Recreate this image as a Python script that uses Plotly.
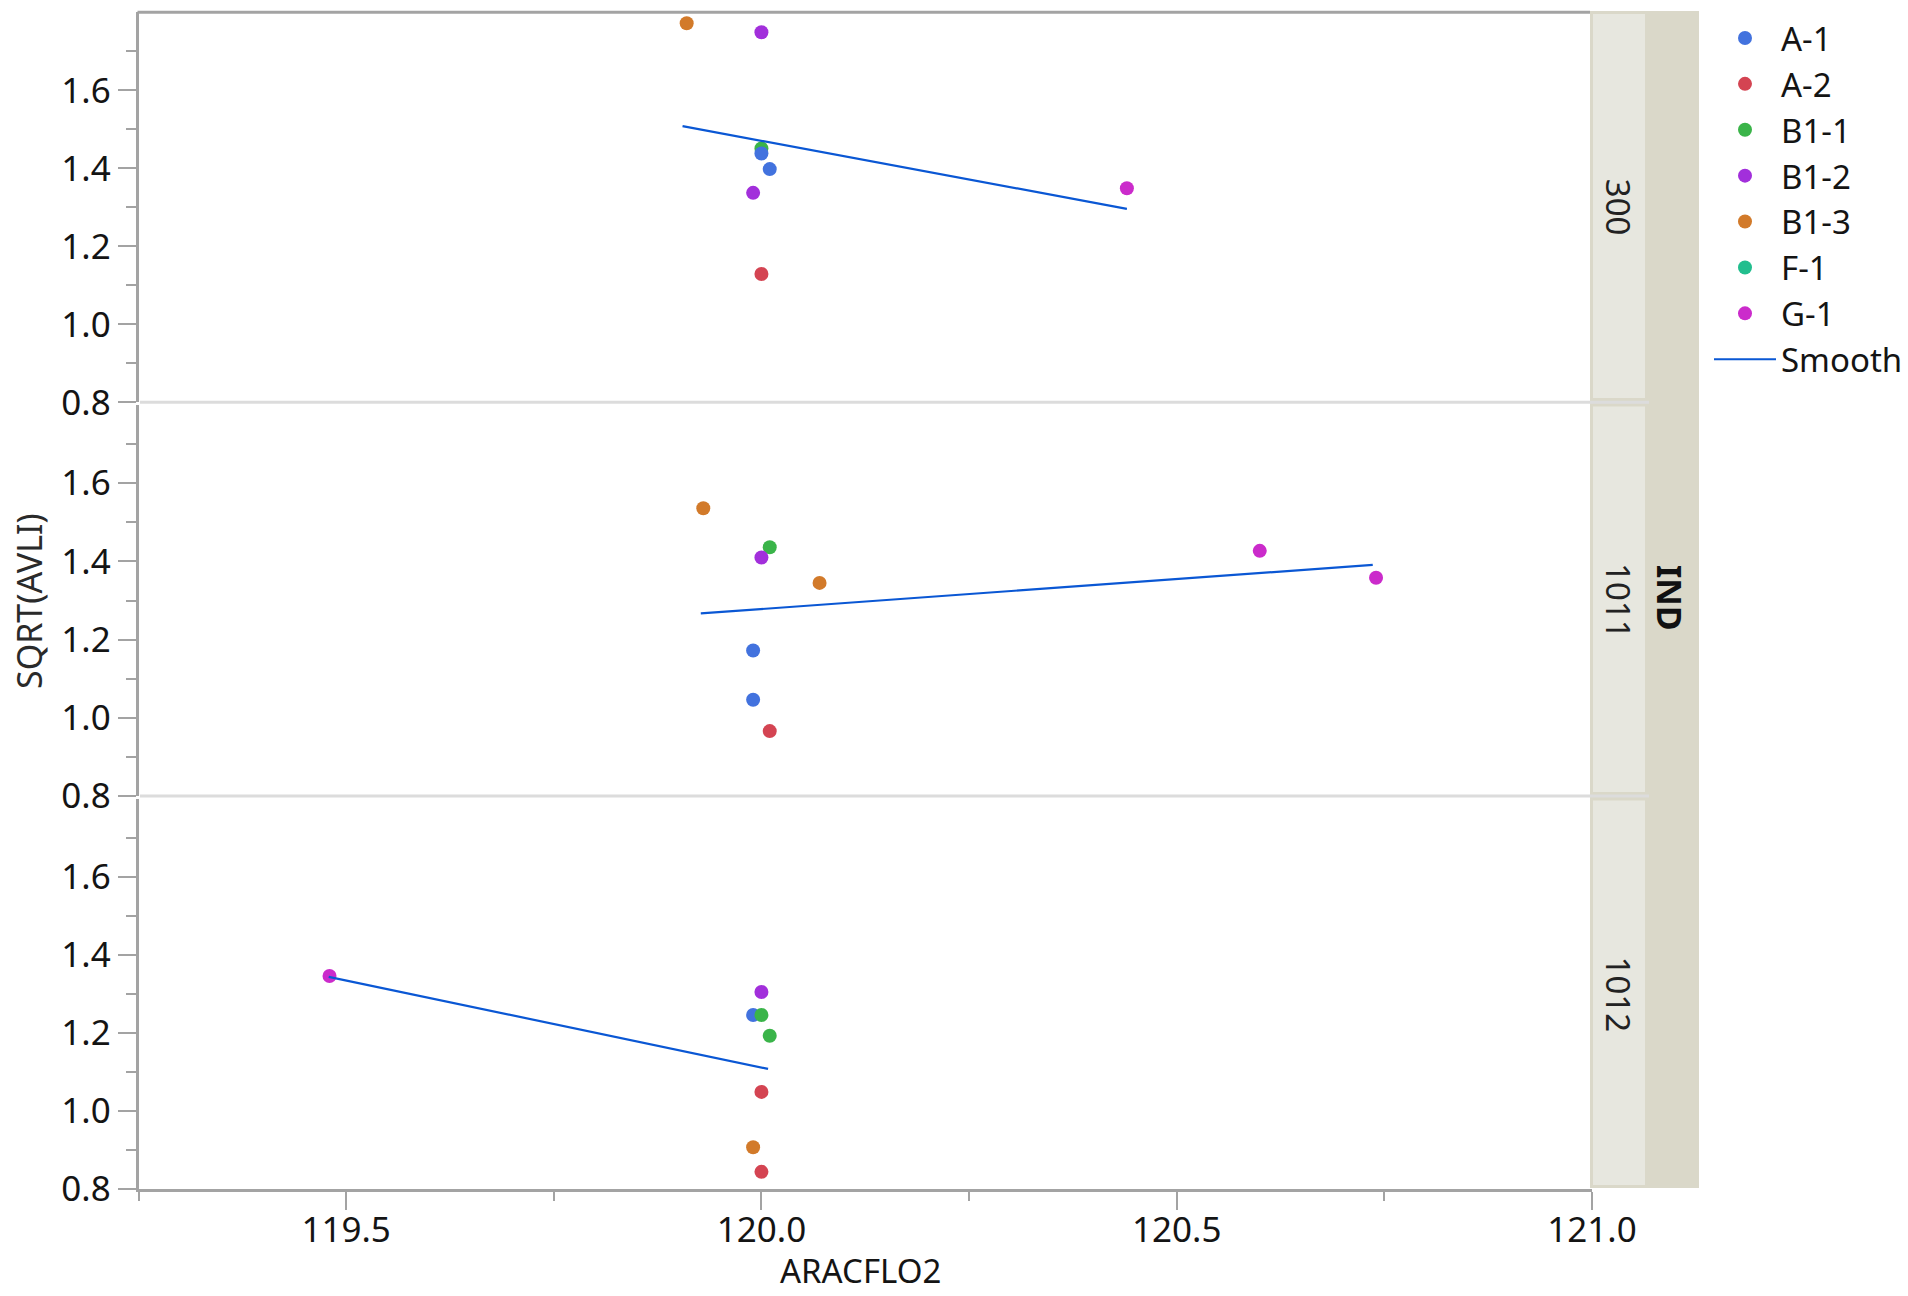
import plotly.graph_objects as go

# ---- data -------------------------------------------------------------
groups = ["A-1", "A-2", "B1-1", "B1-2", "B1-3", "F-1", "G-1"]
group_colors = ["#4272DE", "#D44452", "#3AB449", "#A22FDB", "#D27A2A", "#22BE8E", "#CB2BCB"]

ind_levels = ["300", "1011", "1012"]

# IND = 300
p300_group = ["B1-3", "B1-2", "B1-1", "A-1", "A-1", "B1-2", "A-2", "G-1"]
p300_x = [119.91, 120.00, 120.00, 120.00, 120.01, 119.99, 120.00, 120.44]
p300_y = [1.772, 1.749, 1.451, 1.438, 1.398, 1.337, 1.129, 1.349]

# IND = 1011
p1011_group = ["B1-3", "B1-1", "B1-2", "B1-3", "G-1", "G-1", "A-1", "A-1", "A-2"]
p1011_x = [119.93, 120.01, 120.00, 120.07, 120.60, 120.74, 119.99, 119.99, 120.01]
p1011_y = [1.536, 1.436, 1.410, 1.345, 1.427, 1.358, 1.172, 1.046, 0.966]

# IND = 1012
p1012_group = ["G-1", "B1-2", "A-1", "B1-1", "B1-1", "A-2", "B1-3", "A-2"]
p1012_x = [119.48, 120.00, 119.99, 120.00, 120.01, 120.00, 119.99, 120.00]
p1012_y = [1.346, 1.305, 1.246, 1.246, 1.193, 1.049, 0.907, 0.844]

# smoother end points per panel
smooth_300_x = [119.905, 120.44]
smooth_300_y = [1.508, 1.296]
smooth_1011_x = [119.927, 120.736]
smooth_1011_y = [1.267, 1.391]
smooth_1012_x = [119.479, 120.008]
smooth_1012_y = [1.344, 1.108]

# axis ticks
x_ticks = [119.5, 120.0, 120.5, 121.0]
x_tick_text = ["119.5", "120.0", "120.5", "121.0"]
x_minor = [119.25, 119.75, 120.25, 120.75]
y_ticks = [0.8, 1.0, 1.2, 1.4, 1.6]
y_tick_text = ["0.8", "1.0", "1.2", "1.4", "1.6"]
y_minor = [0.9, 1.1, 1.3, 1.5, 1.7]

# ---- page geometry (pixels) --------------------------------------------
W, H = 1908, 1296
PLOT_L, PLOT_R = 138.5, 1592.0
PANELS_PX = [(12.3, 402.3), (405.0, 796.0), (799.0, 1189.0)]


def px_x(v):
    return v / W


def px_y(v):
    return 1 - v / H


FONT = "Noto Sans, Open Sans, DejaVu Sans, sans-serif"
AXIS_GRAY = "#A3A3A3"
SEP_GRAY = "#DCDCDC"

panel_data = [
    (p300_group, p300_x, p300_y, smooth_300_x, smooth_300_y),
    (p1011_group, p1011_x, p1011_y, smooth_1011_x, smooth_1011_y),
    (p1012_group, p1012_x, p1012_y, smooth_1012_x, smooth_1012_y),
]
# stacking order of the colour groups inside each panel
draw_orders = [
    ["B1-1", "A-1", "A-2", "B1-2", "B1-3", "F-1", "G-1"],
    groups,
    groups,
]

fig = go.Figure()
legend_done = set()
axis_pairs = [("x2", "y"), ("x3", "y2"), ("x", "y3")]
# the bottom panel's smoother sits on the overlay axis that carries the labels
smooth_axes = [("x2", "y"), ("x3", "y2"), ("x4", "y3")]

for pi, (grp, xs, ys, sx, sy) in enumerate(panel_data):
    xa, ya = axis_pairs[pi]
    for g in draw_orders[pi]:
        gi = groups.index(g)
        px = [x for x, gg in zip(xs, grp) if gg == g]
        py = [y for y, gg in zip(ys, grp) if gg == g]
        if not px and g in legend_done:
            continue
        if not px:
            px, py = [None], [None]
        fig.add_trace(go.Scatter(
            x=px, y=py, mode="markers", name=g, legendgroup=g,
            legendrank=gi + 1, showlegend=g not in legend_done,
            marker=dict(color=group_colors[gi], size=14, line=dict(width=0)),
            xaxis=xa, yaxis=ya, hoverinfo="x+y+name",
        ))
        legend_done.add(g)
    sxa, sya = smooth_axes[pi]
    fig.add_trace(go.Scatter(
        x=sx, y=sy, mode="lines", name="Smooth", legendgroup="Smooth",
        legendrank=100, showlegend=pi == 0,
        line=dict(color="#0A57D4", width=2.2),
        xaxis=sxa, yaxis=sya, hoverinfo="skip",
    ))

tick_font = dict(family=FONT, size=35, color="#141414")
x_dom = [px_x(PLOT_L), px_x(PLOT_R)]

xaxis_common = dict(domain=x_dom, range=[119.25, 121.0], showgrid=False,
                    zeroline=False, fixedrange=True, automargin=False)
y_doms = [[px_y(b), px_y(t)] for t, b in PANELS_PX]

layout = dict(
    template="none",
    width=W, height=H,
    margin=dict(l=0, r=0, t=0, b=0, autoexpand=False),
    paper_bgcolor="white", plot_bgcolor="white",
    font=dict(family=FONT),
    showlegend=True,
    legend=dict(
        x=1.0, y=px_y(10), xanchor="right", yanchor="top",
        font=dict(family=FONT, size=33, color="#141414"),
        bgcolor="rgba(0,0,0,0)", borderwidth=0, tracegroupgap=0, itemwidth=62,
    ),
    # bottom axis: line plus major/minor tick marks
    xaxis=dict(
        **xaxis_common, anchor="y3", showline=True, linecolor=AXIS_GRAY,
        linewidth=2.5, ticks="outside", ticklen=18, tickwidth=2,
        tickcolor=AXIS_GRAY, tickmode="array", tickvals=x_ticks,
        showticklabels=False,
        minor=dict(tickmode="array", tickvals=x_minor, ticks="outside",
                   ticklen=9, tickwidth=2, tickcolor=AXIS_GRAY, showgrid=False),
    ),
    xaxis2=dict(**xaxis_common, anchor="y", matches="x", visible=False),
    xaxis3=dict(**xaxis_common, anchor="y2", matches="x", visible=False),
    # overlay axis carrying the tick labels a little closer to the line
    xaxis4=dict(
        **xaxis_common, anchor="y3", overlaying="x", matches="x",
        showline=False, ticks="outside", ticklen=10, tickwidth=0,
        tickcolor="rgba(0,0,0,0)", tickmode="array", tickvals=x_ticks,
        ticktext=x_tick_text, tickfont=tick_font,
    ),
)

for i, name in enumerate(["yaxis", "yaxis2", "yaxis3"]):
    layout[name] = dict(
        domain=y_doms[i], range=[0.8, 1.8], anchor="x", showgrid=False,
        zeroline=False, showline=True, linecolor=AXIS_GRAY, linewidth=2.5,
        ticks="outside", ticklen=18, tickwidth=2, tickcolor=AXIS_GRAY,
        tickmode="array", tickvals=y_ticks, ticktext=y_tick_text,
        tickfont=tick_font, fixedrange=True, automargin=False,
        minor=dict(tickmode="array", tickvals=y_minor, ticks="outside",
                   ticklen=10, tickwidth=2, tickcolor=AXIS_GRAY, showgrid=False),
    )

fig.update_layout(**layout)

# ---- frame, panel separators and the IND strip ---------------------------
shapes = []
STRIP_L, STRIP_M, STRIP_R = 1590.0, 1645.0, 1699.0
shapes.append(dict(type="rect", xref="paper", yref="paper",
                   x0=px_x(STRIP_L), x1=px_x(STRIP_R), y0=px_y(1188), y1=px_y(11),
                   fillcolor="#DAD8C9", line=dict(width=0), layer="below"))
inner_boxes = [(14.0, 398.0), (406.5, 792.0), (800.5, 1185.0)]
for t, b in inner_boxes:
    shapes.append(dict(type="rect", xref="paper", yref="paper",
                       x0=px_x(1593), x1=px_x(STRIP_M), y0=px_y(b), y1=px_y(t),
                       fillcolor="#E7E7DF", line=dict(width=0), layer="below"))
# top frame line
shapes.append(dict(type="line", xref="paper", yref="paper",
                   x0=px_x(PLOT_L - 1), x1=px_x(STRIP_L), y0=px_y(12.3), y1=px_y(12.3),
                   line=dict(color=AXIS_GRAY, width=3)))
# separators between panels
for yb in (402.3, 796.0):
    shapes.append(dict(type="line", xref="paper", yref="paper",
                       x0=px_x(PLOT_L + 1.5), x1=px_x(1649), y0=px_y(yb), y1=px_y(yb),
                       line=dict(color=SEP_GRAY, width=3)))

annotations = []
for (t, b), lab in zip(PANELS_PX, ind_levels):
    annotations.append(dict(
        text=lab, xref="paper", yref="paper", x=px_x(1618.5), y=px_y((t + b) / 2),
        showarrow=False, textangle=90, xanchor="center", yanchor="middle",
        font=dict(family=FONT, size=33, color="#222222"),
    ))
annotations.append(dict(
    text="<b>IND</b>", xref="paper", yref="paper", x=px_x(1670), y=px_y(598),
    showarrow=False, textangle=90, xanchor="center", yanchor="middle",
    font=dict(family=FONT, size=34, color="#111111"),
))
annotations.append(dict(
    text="SQRT(AVLI)", xref="paper", yref="paper", x=px_x(29), y=px_y(601),
    showarrow=False, textangle=-90, xanchor="center", yanchor="middle",
    font=dict(family=FONT, size=34, color="#2a2a2a"),
))
annotations.append(dict(
    text="ARACFLO2", xref="paper", yref="paper", x=px_x(860), y=px_y(1295),
    showarrow=False, xanchor="center", yanchor="bottom",
    font=dict(family=FONT, size=33, color="#141414"),
))

fig.update_layout(shapes=shapes, annotations=annotations)
fig.write_html("out.html")
